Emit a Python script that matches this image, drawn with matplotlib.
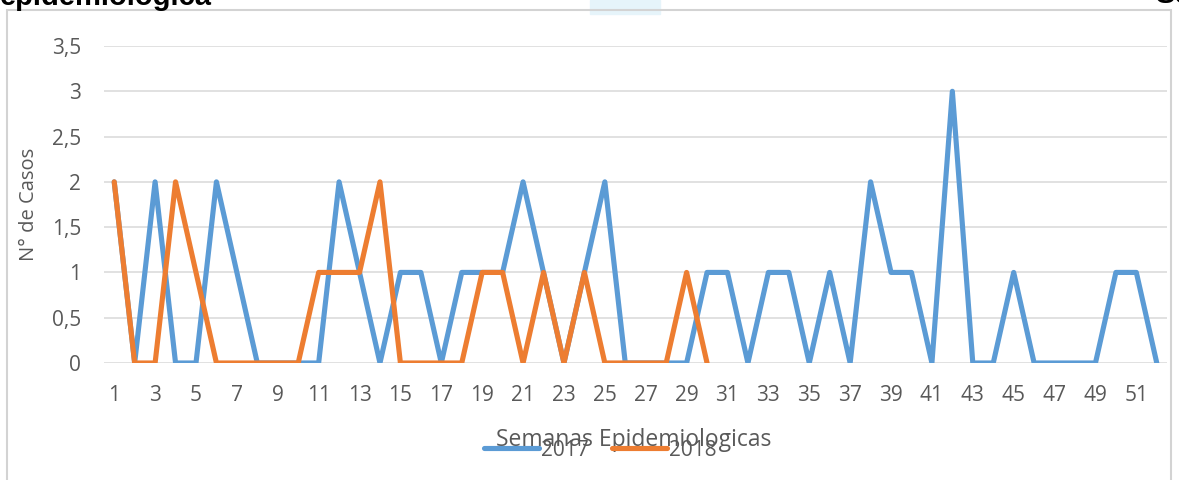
import matplotlib.pyplot as plt
from matplotlib.patches import Rectangle

# semanas epidemiologicas y casos por año
weeks_2017 = list(range(1, 53))
cases_2017 = [2, 0, 2, 0, 0, 2, 1, 0, 0, 0, 0, 2, 1, 0, 1, 1, 0, 1, 1, 1,
              2, 1, 0, 1, 2, 0, 0, 0, 0, 1, 1, 0, 1, 1, 0, 1, 0, 2, 1, 1,
              0, 3, 0, 0, 1, 0, 0, 0, 0, 1, 1, 0]
weeks_2018 = list(range(1, 31))
cases_2018 = [2, 0, 0, 2, 1, 0, 0, 0, 0, 0, 1, 1, 1, 2, 0, 0, 0, 0, 1, 1,
              0, 1, 0, 1, 0, 0, 0, 0, 1, 0]
xtick_weeks = list(range(1, 53, 2))
ytick_vals = [0, 0.5, 1, 1.5, 2, 2.5, 3, 3.5]
ytick_labels = ["0", "0,5", "1", "1,5", "2", "2,5", "3", "3,5"]

blue = "#5B9BD5"
orange = "#ED7D31"
gray = "#595959"
font = ["Open Sans", "DejaVu Sans"]
W, H = 1179, 480

fig = plt.figure(figsize=(W / 100, H / 100), dpi=100)

# marco de la imagen y texto recortado arriba (como en la captura)
fig.patches.append(Rectangle((7 / W, -0.1), 1164 / W, 1.0 - 10 / H + 0.1,
                             transform=fig.transFigure, fill=False,
                             edgecolor="#D3D3D3", linewidth=1.5))
fig.patches.append(Rectangle((590 / W, 1 - 14 / H), 70 / W, 14 / H,
                             transform=fig.transFigure, color="#E6F4FA", zorder=0))
fig.text(0.0, 1.0 - 5 / H, "epidemiologica", fontsize=21, fontweight="bold",
         family=["Liberation Sans", "DejaVu Sans"], va="baseline", ha="left")
fig.text(1155 / W, 1.0 - 3 / H, "Se", fontsize=21, fontweight="bold",
         family=["Liberation Sans", "DejaVu Sans"], va="baseline", ha="left")

ax = fig.add_axes([104 / W, 1 - 363 / H, 1063 / W, 317 / H])
ax.plot(weeks_2017, cases_2017, color=blue, linewidth=3.7, label="2017",
        solid_joinstyle="round", solid_capstyle="round")
ax.plot(weeks_2018, cases_2018, color=orange, linewidth=3.7, label="2018",
        solid_joinstyle="round", solid_capstyle="round")

ax.set_xlim(0.5, 52.5)
ax.set_ylim(0, 3.5)
ax.set_xticks(xtick_weeks)
ax.set_xticklabels([str(w) for w in xtick_weeks], fontsize=15, color=gray,
                   family=font)
ax.set_yticks(ytick_vals)
ax.set_yticklabels(ytick_labels, fontsize=15, color=gray, family=font)
ax.tick_params(axis="both", length=0)
ax.tick_params(axis="x", pad=16)
ax.tick_params(axis="y", pad=16.5)
ax.grid(axis="y", color="#D9D9D9", linewidth=1.1)
ax.set_axisbelow(True)
for s in ax.spines.values():
    s.set_visible(False)

ax.set_ylabel("N° de Casos", fontsize=14.5, color=gray, family=font)
ax.yaxis.set_label_coords(-0.061, 0.5)
ax.set_xlabel("Semanas Epidemiologicas", fontsize=16.5, color=gray, family=font)
ax.xaxis.set_label_coords(0.4986, -0.205)

ax.legend(loc="center", bbox_to_anchor=(600 / W, 1 - 450 / H),
          bbox_transform=fig.transFigure, ncol=2, frameon=False,
          handlelength=2.65, columnspacing=1.1, handletextpad=0.1,
          prop={"family": font, "size": 15}, labelcolor=gray)

fig.savefig("out.png", dpi=100)
